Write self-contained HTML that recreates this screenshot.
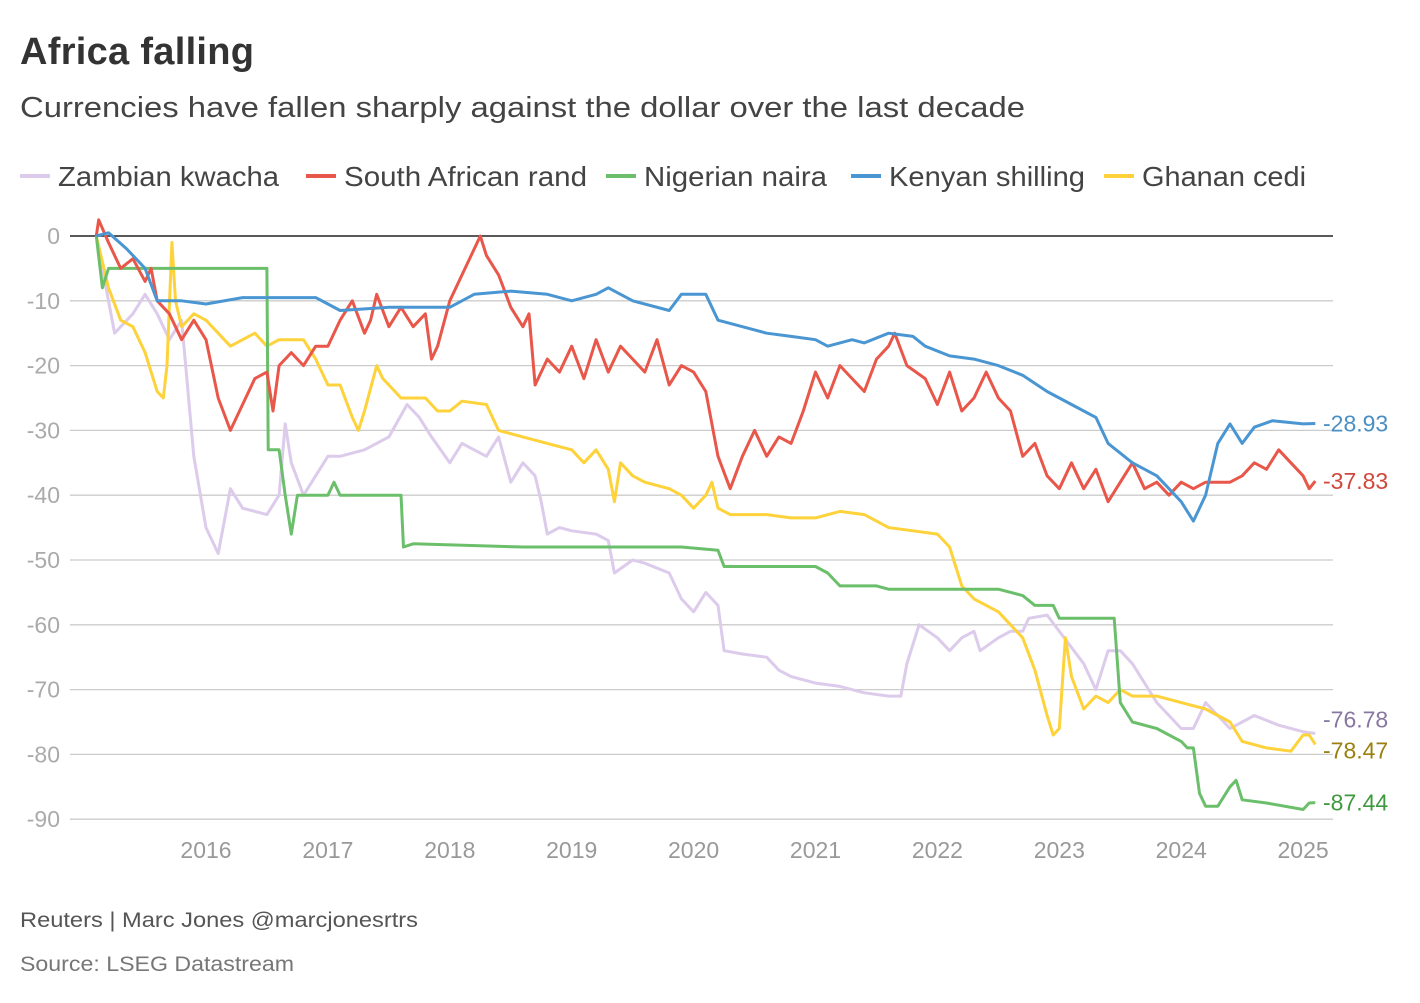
<!DOCTYPE html>
<html><head><meta charset="utf-8"><style>
body{margin:0;background:#fff;font-family:"Liberation Sans",sans-serif;}
svg text{font-family:"Liberation Sans",sans-serif;}
</style></head><body>
<svg id="chart" width="1420" height="998" viewBox="0 0 1420 998" xmlns="http://www.w3.org/2000/svg">
<text x="20" y="64" font-size="38" font-weight="bold" fill="#333" textLength="234">Africa falling</text>
<text x="20" y="117" font-size="29" fill="#444" textLength="1005" lengthAdjust="spacingAndGlyphs">Currencies have fallen sharply against the dollar over the last decade</text>
<g id="legend"></g>
<g id="grid"></g>
<g id="yaxis"></g>
<g id="xaxis"></g>
<g id="series"></g>
<g id="endlabels"></g>
<text x="20" y="927" font-size="21" fill="#555" textLength="398" lengthAdjust="spacingAndGlyphs">Reuters | Marc Jones @marcjonesrtrs</text>
<text x="20" y="971" font-size="21" fill="#777" textLength="274" lengthAdjust="spacingAndGlyphs">Source: LSEG Datastream</text>
</svg>
<script>
const seriesNames = ["Zambian kwacha","South African rand","Nigerian naira","Kenyan shilling","Ghanan cedi"];
const yTicks = [0,-10,-20,-30,-40,-50,-60,-70,-80,-90];
const xTicks = [2016,2017,2018,2019,2020,2021,2022,2023,2024,2025];
const kwacha = [[2015.1,0],[2015.15,-5],[2015.2,-10],[2015.25,-15],[2015.4,-12],[2015.5,-9],[2015.6,-12],[2015.7,-16],[2015.8,-13],[2015.9,-34],[2016.0,-45],[2016.1,-49],[2016.2,-39],[2016.3,-42],[2016.5,-43],[2016.6,-40],[2016.65,-29],[2016.7,-35],[2016.8,-40],[2016.9,-37],[2017.0,-34],[2017.1,-34],[2017.3,-33],[2017.5,-31],[2017.65,-26],[2017.75,-28],[2017.85,-31],[2018.0,-35],[2018.1,-32],[2018.3,-34],[2018.4,-31],[2018.5,-38],[2018.6,-35],[2018.7,-37],[2018.75,-41],[2018.8,-46],[2018.9,-45],[2019.0,-45.5],[2019.2,-46],[2019.3,-47],[2019.35,-52],[2019.5,-50],[2019.6,-50.5],[2019.8,-52],[2019.9,-56],[2020.0,-58],[2020.1,-55],[2020.2,-57],[2020.25,-64],[2020.4,-64.5],[2020.6,-65],[2020.7,-67],[2020.8,-68],[2021.0,-69],[2021.2,-69.5],[2021.4,-70.5],[2021.6,-71],[2021.7,-71],[2021.75,-66],[2021.85,-60],[2022.0,-62],[2022.1,-64],[2022.2,-62],[2022.3,-61],[2022.35,-64],[2022.5,-62],[2022.6,-61],[2022.7,-61],[2022.75,-59],[2022.9,-58.5],[2023.0,-61],[2023.2,-66],[2023.3,-70],[2023.4,-64],[2023.5,-64],[2023.6,-66],[2023.7,-69],[2023.8,-72],[2023.9,-74],[2024.0,-76],[2024.1,-76],[2024.2,-72],[2024.3,-74],[2024.4,-76],[2024.5,-75],[2024.6,-74],[2024.8,-75.5],[2025.0,-76.5],[2025.1,-76.78]];
const rand = [[2015.1,0],[2015.12,2.5],[2015.2,-1],[2015.3,-5],[2015.4,-3.5],[2015.5,-7],[2015.55,-5],[2015.6,-10],[2015.7,-12],[2015.8,-16],[2015.9,-13],[2016.0,-16],[2016.1,-25],[2016.2,-30],[2016.3,-26],[2016.4,-22],[2016.5,-21],[2016.55,-27],[2016.6,-20],[2016.7,-18],[2016.8,-20],[2016.9,-17],[2017.0,-17],[2017.1,-13],[2017.2,-10],[2017.3,-15],[2017.35,-13],[2017.4,-9],[2017.5,-14],[2017.6,-11],[2017.7,-14],[2017.8,-12],[2017.85,-19],[2017.9,-17],[2018.0,-10],[2018.1,-6],[2018.2,-2],[2018.25,0],[2018.3,-3],[2018.4,-6],[2018.5,-11],[2018.6,-14],[2018.65,-12],[2018.7,-23],[2018.8,-19],[2018.9,-21],[2019.0,-17],[2019.1,-22],[2019.2,-16],[2019.3,-21],[2019.4,-17],[2019.5,-19],[2019.6,-21],[2019.7,-16],[2019.8,-23],[2019.9,-20],[2020.0,-21],[2020.1,-24],[2020.2,-34],[2020.3,-39],[2020.4,-34],[2020.5,-30],[2020.6,-34],[2020.7,-31],[2020.8,-32],[2020.9,-27],[2021.0,-21],[2021.1,-25],[2021.2,-20],[2021.3,-22],[2021.4,-24],[2021.5,-19],[2021.6,-17],[2021.65,-15],[2021.75,-20],[2021.9,-22],[2022.0,-26],[2022.1,-21],[2022.2,-27],[2022.3,-25],[2022.4,-21],[2022.5,-25],[2022.6,-27],[2022.7,-34],[2022.8,-32],[2022.9,-37],[2023.0,-39],[2023.1,-35],[2023.2,-39],[2023.3,-36],[2023.4,-41],[2023.5,-38],[2023.6,-35],[2023.7,-39],[2023.8,-38],[2023.9,-40],[2024.0,-38],[2024.1,-39],[2024.2,-38],[2024.3,-38],[2024.4,-38],[2024.5,-37],[2024.6,-35],[2024.7,-36],[2024.8,-33],[2024.9,-35],[2025.0,-37],[2025.05,-39],[2025.1,-37.83]];
const naira = [[2015.1,0],[2015.15,-8],[2015.2,-5],[2016.5,-5],[2016.51,-33],[2016.6,-33],[2016.65,-40],[2016.7,-46],[2016.75,-40],[2017.0,-40],[2017.05,-38],[2017.1,-40],[2017.6,-40],[2017.62,-48],[2017.7,-47.5],[2018.6,-48],[2019.0,-48],[2019.9,-48],[2020.2,-48.5],[2020.25,-51],[2020.5,-51],[2021.0,-51],[2021.1,-52],[2021.2,-54],[2021.5,-54],[2021.6,-54.5],[2022.5,-54.5],[2022.7,-55.5],[2022.8,-57],[2022.95,-57],[2023.0,-59],[2023.45,-59],[2023.5,-72],[2023.6,-75],[2023.8,-76],[2024.0,-78],[2024.05,-79],[2024.1,-79],[2024.15,-86],[2024.2,-88],[2024.3,-88],[2024.4,-85],[2024.45,-84],[2024.5,-87],[2024.7,-87.5],[2025.0,-88.5],[2025.05,-87.5],[2025.1,-87.44]];
const shilling = [[2015.1,0],[2015.2,0.5],[2015.35,-2],[2015.5,-5],[2015.6,-10],[2015.8,-10],[2016.0,-10.5],[2016.3,-9.5],[2016.9,-9.5],[2017.0,-10.5],[2017.1,-11.5],[2017.5,-11],[2018.0,-11],[2018.2,-9],[2018.5,-8.5],[2018.8,-9],[2019.0,-10],[2019.2,-9],[2019.3,-8],[2019.5,-10],[2019.8,-11.5],[2019.9,-9],[2020.1,-9],[2020.2,-13],[2020.4,-14],[2020.6,-15],[2020.8,-15.5],[2021.0,-16],[2021.1,-17],[2021.3,-16],[2021.4,-16.5],[2021.6,-15],[2021.8,-15.5],[2021.9,-17],[2022.1,-18.5],[2022.3,-19],[2022.5,-20],[2022.7,-21.5],[2022.9,-24],[2023.1,-26],[2023.3,-28],[2023.4,-32],[2023.6,-35],[2023.8,-37],[2023.9,-39],[2024.0,-41],[2024.1,-44],[2024.2,-40],[2024.3,-32],[2024.4,-29],[2024.5,-32],[2024.6,-29.5],[2024.75,-28.5],[2025.0,-29],[2025.1,-28.93]];
const cedi = [[2015.1,0],[2015.2,-8],[2015.3,-13],[2015.4,-14],[2015.5,-18],[2015.6,-24],[2015.65,-25],[2015.68,-20],[2015.72,-1],[2015.75,-10],[2015.8,-14],[2015.9,-12],[2016.0,-13],[2016.1,-15],[2016.2,-17],[2016.3,-16],[2016.4,-15],[2016.5,-17],[2016.6,-16],[2016.8,-16],[2016.9,-19],[2017.0,-23],[2017.1,-23],[2017.2,-28],[2017.25,-30],[2017.3,-27],[2017.4,-20],[2017.45,-22],[2017.5,-23],[2017.6,-25],[2017.8,-25],[2017.9,-27],[2018.0,-27],[2018.1,-25.5],[2018.3,-26],[2018.4,-30],[2018.6,-31],[2018.8,-32],[2019.0,-33],[2019.1,-35],[2019.2,-33],[2019.3,-36],[2019.35,-41],[2019.4,-35],[2019.5,-37],[2019.6,-38],[2019.8,-39],[2019.9,-40],[2020.0,-42],[2020.1,-40],[2020.15,-38],[2020.2,-42],[2020.3,-43],[2020.6,-43],[2020.8,-43.5],[2021.0,-43.5],[2021.2,-42.5],[2021.4,-43],[2021.6,-45],[2021.8,-45.5],[2022.0,-46],[2022.1,-48],[2022.2,-54],[2022.3,-56],[2022.5,-58],[2022.6,-60],[2022.7,-62],[2022.8,-67],[2022.9,-74],[2022.95,-77],[2023.0,-76],[2023.05,-62],[2023.1,-68],[2023.2,-73],[2023.3,-71],[2023.4,-72],[2023.5,-70],[2023.6,-71],[2023.8,-71],[2024.0,-72],[2024.2,-73],[2024.4,-75],[2024.5,-78],[2024.7,-79],[2024.9,-79.5],[2025.0,-77],[2025.05,-77],[2025.1,-78.47]];

const NS="http://www.w3.org/2000/svg";
function xs(y){return 206+(y-2016)*121.9;}
function ys(v){return 236-v*6.48;}
function mk(tag,attrs,parent){const e=document.createElementNS(NS,tag);for(const k in attrs)e.setAttribute(k,attrs[k]);parent.appendChild(e);return e;}

const grid=document.getElementById('grid'),yax=document.getElementById('yaxis'),xax=document.getElementById('xaxis');
yTicks.forEach(t=>{
  const l=mk('line',{x1:70,x2:1333,y1:ys(t),y2:ys(t),stroke:t===0?'#222':'#ccc','stroke-width':t===0?1.6:1.3},grid);
  
  
  const tx=mk('text',{x:60,y:ys(t)+8,'text-anchor':'end','font-size':23,fill:'#aaa'},yax);
  tx.textContent=t;
  
  
});
xTicks.forEach(t=>{
  const tx=mk('text',{x:xs(t),y:858,'text-anchor':'middle','font-size':23,fill:'#999'},xax);
  tx.textContent=t;
  
  
});
const colors=['#dccbeb','#e8574a','#6bbf6b','#4a96d2','#fdd23a'];
const labelColors=['#8878a0','#d0473b','#3f9a3f','#4a8fc4','#9a8010'];
const data=[kwacha,rand,naira,shilling,cedi];
const order=[0,4,2,1,3];
const sg=document.getElementById('series');
order.forEach(i=>{
  const d=data[i].map((p,j)=>(j?'L':'M')+xs(p[0]).toFixed(1)+','+ys(p[1]).toFixed(1)).join('');
  const p=mk('path',{d:d,fill:'none',stroke:colors[i],'stroke-width':3,'stroke-linejoin':'round'},sg);
  
  
});
const eg=document.getElementById('endlabels');
const labelNudge=[-14,0,0,0,6];
data.forEach((s,i)=>{
  const last=s[s.length-1];
  const tx=mk('text',{x:1323,y:ys(last[1])+8+labelNudge[i],'font-size':23,fill:labelColors[i]},eg);
  tx.textContent=last[1].toFixed(2);
  
  
});
const lg=document.getElementById('legend');
const legX=[20,306,606,851,1104];
const legW=[221,243,183,196,164];
seriesNames.forEach((n,i)=>{
  const g=mk('g',{},lg);
  
  
  mk('line',{x1:legX[i],x2:legX[i]+30,y1:176,y2:176,stroke:colors[i],'stroke-width':4},g);
  const t=mk('text',{x:legX[i]+38,y:186,'font-size':28,fill:'#444',textLength:legW[i],lengthAdjust:'spacingAndGlyphs'},g);
  t.textContent=n;
});
</script>
</body></html>
